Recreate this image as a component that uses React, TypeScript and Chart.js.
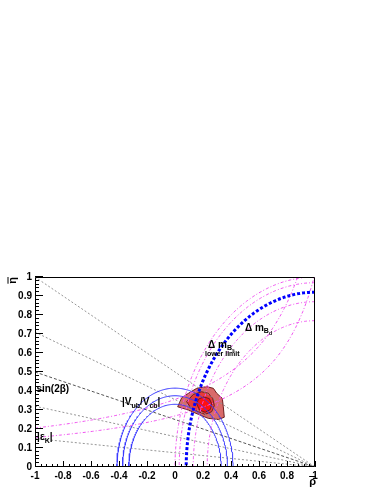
import React, { useEffect, useRef } from "react";
import { Chart, registerables } from "chart.js";

Chart.register(...registerables);

// ---------------- values ----------------
const xTickValues = [-1, -0.8, -0.6, -0.4, -0.2, 0, 0.2, 0.4, 0.6, 0.8, 1];
const yTickValues = [0, 0.1, 0.2, 0.3, 0.4, 0.5, 0.6, 0.7, 0.8, 0.9, 1];

// sin(2β): straight lines from (1,0); η where each line meets ρ = -1
const sin2betaEtaAtMinus1 = [1.0, 0.71, 0.5, 0.32, 0.15];
// |Vub/Vcb|: circles centred on (0,0)
const vubVcbRadii = [0.33, 0.375, 0.415];
// Δm_Bd: circles centred on (1,0)
const dmBdRadii = [1.0, 0.97, 0.87, 0.77];
// Δm_Bs lower limit: circle centred on (1,0)
const dmBsLimitRadii = [0.92];
// |εK|: hyperbolae η·(pole − ρ) = k, given by η at ρ = -1
const epsKEtaAtMinus1 = [0.205, 0.155];
const epsKPole = [1.36];

// fit contours (ρ, η)
const outerRho = [0.019, 0.048, 0.107, 0.155, 0.226, 0.274, 0.298, 0.338, 0.345, 0.352, 0.31, 0.238, 0.167, 0.095];
const outerEta = [0.317, 0.365, 0.393, 0.414, 0.423, 0.414, 0.388, 0.361, 0.317, 0.262, 0.25, 0.256, 0.277, 0.3];
const middleRho = [0.083, 0.131, 0.19, 0.238, 0.269, 0.281, 0.262, 0.214, 0.155, 0.107];
const middleEta = [0.344, 0.382, 0.396, 0.388, 0.361, 0.323, 0.291, 0.277, 0.295, 0.317];
const innerRho = [0.155, 0.168, 0.205, 0.245, 0.263, 0.252, 0.215, 0.175];
const innerEta = [0.332, 0.357, 0.369, 0.36, 0.332, 0.302, 0.288, 0.3];

// ---------------- geometry helpers ----------------
type P = { x: number; y: number };
const SAMPLES = 160;

function arc(cx: number, r: number, t0: number, t1: number): P[] {
  const pts: P[] = [];
  for (let i = 0; i <= SAMPLES; i++) {
    const t = t0 + ((t1 - t0) * i) / SAMPLES;
    pts.push({ x: cx + r * Math.cos(t), y: r * Math.sin(t) });
  }
  return pts;
}

function hyperbola(etaAtMinus1: number, pole: number): P[] {
  const k = etaAtMinus1 * (pole + 1);
  const end = Math.min(1, pole - k * 0.98);
  const pts: P[] = [];
  for (let i = 0; i <= SAMPLES; i++) {
    const r = -1 + ((end + 1) * i) / SAMPLES;
    pts.push({ x: r, y: k / (pole - r) });
  }
  return pts;
}

function polygon(rho: number[], eta: number[]): P[] {
  const pts = rho.map((r, i) => ({ x: r, y: eta[i] }));
  pts.push({ ...pts[0] });
  return pts;
}

const FONT = '"Liberation Sans", Arial, Helvetica, sans-serif';
const MAGENTA = "#f055f0";

function buildDatasets() {
  const ds: any[] = [];
  const line = (data: P[], color: string, width: number, dash: number[], order = 0) => ({
    data,
    showLine: true,
    borderColor: color,
    borderWidth: width,
    borderDash: dash,
    pointRadius: 0,
    pointHoverRadius: 0,
    tension: 0,
    fill: false,
    order,
  });
  const area = (data: P[], fillColor: string, order: number) => ({
    data,
    showLine: true,
    borderColor: "#6b1e1e",
    borderWidth: 1,
    backgroundColor: fillColor,
    pointRadius: 0,
    pointHoverRadius: 0,
    tension: 0,
    fill: "shape",
    order,
  });

  ds.push(area(polygon(outerRho, outerEta), "#d96a6a", 30));
  ds.push(area(polygon(middleRho, middleEta), "#e83a3a", 29));
  ds.push(area(polygon(innerRho, innerEta), "#ff1010", 28));

  sin2betaEtaAtMinus1.forEach((h, i) => {
    const central = i === 2;
    ds.push(line([{ x: -1, y: h }, { x: 1, y: 0 }], central ? "#555555" : "#959595", 1, central ? [3, 2] : [2, 2], 5));
  });

  vubVcbRadii.forEach((r) => ds.push(line(arc(0, r, 0, Math.PI), "#3a3aff", 1, [], 4)));

  dmBdRadii.forEach((r) => ds.push(line(arc(1, r, Math.PI / 2, Math.PI), MAGENTA, 1, [3, 2, 1, 2], 3)));

  epsKEtaAtMinus1.forEach((h) => ds.push(line(hyperbola(h, epsKPole[0]), MAGENTA, 1, [3, 2, 1, 2], 3)));

  dmBsLimitRadii.forEach((r) => ds.push(line(arc(1, r, Math.PI / 2, Math.PI), "#0000ff", 3, [3, 2], 1)));

  return ds;
}

type Part = { t: string; s: number; dy: number };

function drawParts(ctx: CanvasRenderingContext2D, x: number, y: number, parts: Part[]) {
  let cx = x;
  for (const p of parts) {
    ctx.font = `bold ${p.s}px ${FONT}`;
    ctx.fillText(p.t, cx, y + p.dy);
    cx += ctx.measureText(p.t).width;
  }
}

const M = 10; // main label size
const S = 7; // subscript size

const labels: { rho: number; eta: number; parts: Part[] }[] = [
  { rho: -0.99, eta: 0.397, parts: [{ t: "sin(2β)", s: M, dy: 0 }] },
  {
    rho: -0.379,
    eta: 0.326,
    parts: [
      { t: "|V", s: M, dy: 0 },
      { t: "ub", s: S, dy: 3 },
      { t: "/V", s: M, dy: 0 },
      { t: "cb", s: S, dy: 3 },
      { t: "|", s: M, dy: 0 },
    ],
  },
  {
    rho: -0.985,
    eta: 0.142,
    parts: [
      { t: "|ε", s: M, dy: 0 },
      { t: "K", s: S, dy: 3 },
      { t: "|", s: M, dy: 0 },
    ],
  },
  {
    rho: 0.5,
    eta: 0.718,
    parts: [
      { t: "Δ m", s: M, dy: 0 },
      { t: "B", s: S, dy: 2 },
      { t: "d", s: 5, dy: 4 },
    ],
  },
  {
    rho: 0.236,
    eta: 0.624,
    parts: [
      { t: "Δ m", s: M, dy: 0 },
      { t: "B", s: S, dy: 2 },
      { t: "s", s: 5, dy: 4 },
    ],
  },
  { rho: 0.214, eta: 0.584, parts: [{ t: "lower limit", s: 7, dy: 0 }] },
];

const decorPlugin = {
  id: "decor",
  afterDatasetsDraw(chart: any) {
    const { ctx, chartArea: a, scales } = chart;
    const xs = scales.x;
    const ys = scales.y;
    ctx.save();
    ctx.strokeStyle = "#000000";
    ctx.lineWidth = 1;
    ctx.setLineDash([]);
    ctx.beginPath();
    ctx.rect(Math.round(a.left) + 0.5, Math.round(a.top) + 0.5, Math.round(a.right - a.left) - 1, Math.round(a.bottom - a.top) - 1);
    ctx.stroke();

    ctx.beginPath();
    for (let i = 0; i <= 50; i++) {
      const v = -1 + i * 0.04;
      const px = Math.round(xs.getPixelForValue(v)) + 0.5;
      const len = i % 5 === 0 ? 6 : 3;
      ctx.moveTo(px, a.bottom);
      ctx.lineTo(px, a.bottom - len);
    }
    for (let i = 0; i <= 50; i++) {
      const v = i * 0.02;
      const py = Math.round(ys.getPixelForValue(v)) - 0.5;
      const len = i % 5 === 0 ? 8 : 4;
      ctx.moveTo(a.left, py);
      ctx.lineTo(a.left + len, py);
    }
    ctx.stroke();

    ctx.fillStyle = "#000000";
    ctx.textBaseline = "alphabetic";
    ctx.textAlign = "left";
    for (const l of labels) {
      drawParts(ctx, xs.getPixelForValue(l.rho), ys.getPixelForValue(l.eta), l.parts);
    }

    // axis titles: ρ̄ and η̄
    ctx.font = `bold 11px ${FONT}`;
    ctx.textAlign = "right";
    const rx = a.right + 1;
    const ry = a.bottom + 18;
    ctx.fillText("ρ", rx, ry);
    const rw = ctx.measureText("ρ").width;
    ctx.beginPath();
    ctx.moveTo(rx - rw, ry - 8.5);
    ctx.lineTo(rx, ry - 8.5);
    ctx.stroke();

    ctx.save();
    ctx.translate(16, a.top);
    ctx.rotate(-Math.PI / 2);
    ctx.fillText("η", 0, 0);
    const ew = ctx.measureText("η").width;
    ctx.beginPath();
    ctx.moveTo(-ew, -8);
    ctx.lineTo(0, -8);
    ctx.stroke();
    ctx.restore();

    ctx.restore();
  },
};

export default function App() {
  const ref = useRef<HTMLCanvasElement | null>(null);
  useEffect(() => {
    if (!ref.current) return;
    const chart = new Chart(ref.current, {
      type: "scatter",
      data: { datasets: buildDatasets() },
      options: {
        animation: false,
        responsive: false,
        maintainAspectRatio: false,
        layout: { padding: { left: 0, top: 277, right: 64, bottom: 0 } },
        plugins: { legend: { display: false }, tooltip: { enabled: false } },
        events: [],
        scales: {
          x: {
            type: "linear",
            min: -1,
            max: 1,
            afterBuildTicks: (s: any) => {
              s.ticks = xTickValues.map((v) => ({ value: v }));
            },
            afterFit: (s: any) => {
              s.height = 24;
            },
            grid: { display: false, drawTicks: false },
            border: { display: false },
            ticks: {
              padding: 3,
              autoSkip: false,
              maxRotation: 0,
              color: "#000000",
              font: { family: FONT, size: 10, weight: "bold" },
              callback: (v: any) => String(Math.round(Number(v) * 10) / 10),
            },
          },
          y: {
            type: "linear",
            min: 0,
            max: 1,
            afterBuildTicks: (s: any) => {
              s.ticks = yTickValues.map((v) => ({ value: v }));
            },
            afterFit: (s: any) => {
              s.width = 35;
            },
            grid: { display: false, drawTicks: false },
            border: { display: false },
            ticks: {
              padding: 3,
              autoSkip: false,
              color: "#000000",
              font: { family: FONT, size: 10, weight: "bold" },
              callback: (v: any) => String(Math.round(Number(v) * 10) / 10),
            },
          },
        },
      } as any,
      plugins: [decorPlugin],
    });
    return () => chart.destroy();
  }, []);

  return (
    <div style={{ position: "absolute", left: 0, top: 0, width: 379, height: 491, background: "#ffffff" }}>
      <canvas ref={ref} width={379} height={491} style={{ width: 379, height: 491, display: "block" }} />
    </div>
  );
}
